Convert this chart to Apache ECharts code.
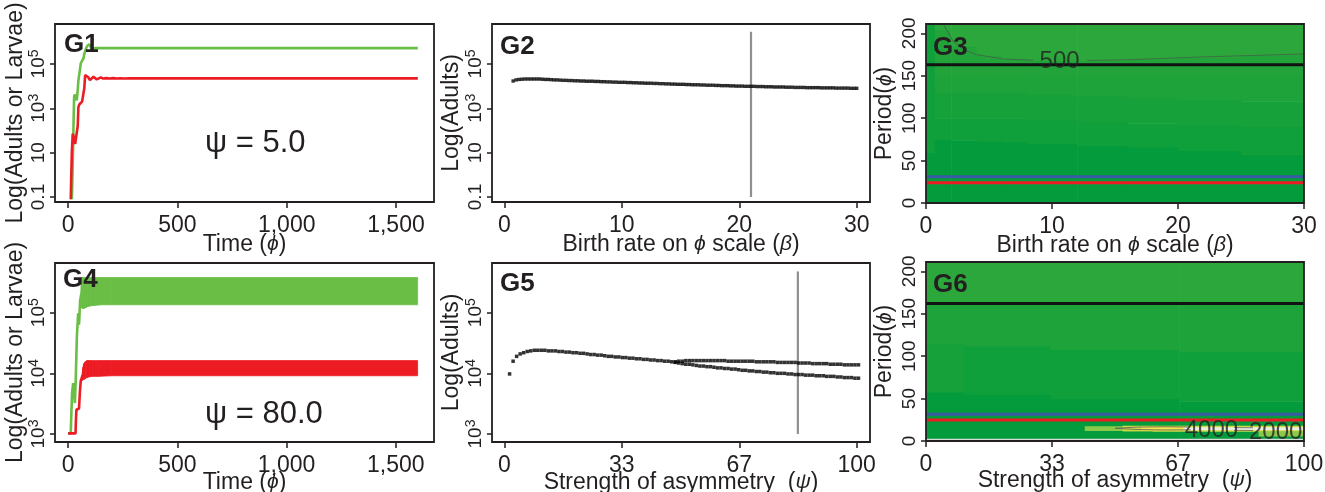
<!DOCTYPE html>
<html><head><meta charset="utf-8">
<script src="https://cdn.jsdelivr.net/npm/echarts@6/dist/echarts.min.js"></script>
<style>html,body{margin:0;padding:0;background:#fff}#c{width:1325px;height:492px}</style>
</head><body><div id="c"></div>
<script>
// ---------------- data (log10 units on "Log(...)" axes) ----------------
const timeTicks = [0, 500, 1000, 1500];
const timeTickLabels = ['0', '500', '1,000', '1,500'];
const betaTicks = [0, 10, 20, 30];
const betaTickLabels = ['0', '10', '20', '30'];
const psiTicks = [0, 33.33, 66.67, 100];
const psiTickLabels = ['0', '33', '67', '100'];
const logTicksTop = [-1, 1, 3, 5];
const logTickLabelsTop = ['0.1', '10', '10^3', '10^5'];
const logTicksBottom = [3, 4, 5];
const logTickLabelsBottom = ['10^3', '10^4', '10^5'];
const periodTicks = [0, 50, 100, 150, 200];
const periodTickLabels = ['0', '50', '100', '150', '200'];

// G1 (psi = 5.0)
const g1LarvaeT = [17,19,22,25,27.4,30,33.5,37,39.6,43,47,51.8,55,58,62,65.5,70,74,77.7,82,88,93,97.5,102,108,115,123,140,1600];
const g1LarvaeLog = [-1.10,-0.40,0.90,2.40,3.51,3.62,3.67,3.55,3.36,3.70,4.25,4.58,4.80,5.03,5.10,5.08,5.25,5.45,5.56,5.70,5.82,5.87,5.89,5.80,5.67,5.69,5.71,5.71,5.71];
const g1AdultsT = [12,14,17,21,26,32,36,40,44,47,52,58,64,70,74,78,82,86,92,100,108,116,124,131,140,150,161,175,190,205,222,240,260,280,1600];
const g1AdultsLog = [-1.10,-0.20,1.00,1.85,1.70,1.39,1.35,1.32,2.20,3.06,3.18,3.21,3.30,3.36,3.90,4.50,4.58,4.55,4.40,4.27,4.35,4.42,4.38,4.30,4.36,4.39,4.34,4.36,4.34,4.36,4.34,4.35,4.34,4.35,4.35];

// G2
const g2Beta = [0.75,1,1.25,1.5,1.75,2,2.25,2.5,2.75,3,3.25,3.5,3.75,4,4.25,4.5,4.75,5,
5.25,5.5,5.75,6,6.25,6.5,6.75,7,7.25,7.5,7.75,8,8.25,8.5,8.75,9,9.25,9.5,9.75,10,
10.25,10.5,10.75,11,11.25,11.5,11.75,12,12.25,12.5,12.75,13,13.25,13.5,13.75,14,14.25,14.5,14.75,15,
15.25,15.5,15.75,16,16.25,16.5,16.75,17,17.25,17.5,17.75,18,18.25,18.5,18.75,19,19.25,19.5,19.75,20,
20.25,20.5,20.75,21,21.25,21.5,21.75,22,22.25,22.5,22.75,23,23.25,23.5,23.75,24,24.25,24.5,24.75,25,
25.25,25.5,25.75,26,26.25,26.5,26.75,27,27.25,27.5,27.75,28,28.25,28.5,28.75,29,29.25,29.5,29.75,30];
const g2AdultsLog = [4.23,4.28,4.30,4.31,4.32,4.32,4.32,4.32,4.32,4.32,4.31,4.30,4.30,4.29,4.28,4.28,4.27,4.26,
4.26,4.25,4.25,4.24,4.24,4.23,4.23,4.22,4.22,4.22,4.21,4.21,4.20,4.20,4.19,4.19,4.18,4.18,4.17,4.17,
4.17,4.16,4.16,4.15,4.15,4.14,4.14,4.13,4.13,4.13,4.12,4.12,4.11,4.11,4.10,4.10,4.09,4.09,4.08,4.08,
4.08,4.07,4.07,4.06,4.06,4.06,4.05,4.05,4.04,4.04,4.04,4.03,4.03,4.02,4.02,4.02,4.01,4.01,4.00,4.00,
4.00,3.99,3.99,3.99,3.99,3.98,3.98,3.98,3.97,3.97,3.97,3.96,3.96,3.96,3.96,3.95,3.95,3.95,3.94,3.94,
3.94,3.94,3.93,3.93,3.93,3.93,3.93,3.92,3.92,3.92,3.92,3.92,3.91,3.91,3.91,3.91,3.91,3.90,3.90,3.90];
const g2Marker = {beta: 21, fromLog: -1, toLog: 6.45};

// G3 filled contour cells: [beta0, beta1, period0, period1, level]
const g3Cells = [
 [0,0.7,0,60,0],[0,0.7,60,211,1],
 [0.7,2,0,75,0],[0.7,2,75,100,1],[0.7,2,100,130,2],[0.7,2,130,150,3],[0.7,2,150,205,4],[0.7,2,205,211,5],
 [2,4,0,74,0],[2,4,74,100,1],[2,4,100,130,2],[2,4,130,150,3],[2,4,150,186,4],[2,4,186,211,5],
 [4,6,0,73,0],[4,6,73,100,1],[4,6,100,130,2],[4,6,130,150,3],[4,6,150,174,4],[4,6,174,211,5],
 [6,8,0,72,0],[6,8,72,100,1],[6,8,100,130,2],[6,8,130,150,3],[6,8,150,170,4],[6,8,170,211,5],
 [8,12,0,70,0],[8,12,70,98,1],[8,12,98,128,2],[8,12,128,150,3],[8,12,150,168,4],[8,12,168,211,5],
 [12,16,0,68,0],[12,16,68,96,1],[12,16,96,126,2],[12,16,126,150,3],[12,16,150,168,4],[12,16,168,211,5],
 [16,20,0,66,0],[16,20,66,94,1],[16,20,94,124,2],[16,20,124,150,3],[16,20,150,170,4],[16,20,170,211,5],
 [20,25,0,62,0],[20,25,62,92,1],[20,25,92,122,2],[20,25,122,150,3],[20,25,150,172,4],[20,25,172,211,5],
 [25,30,0,57,0],[25,30,57,90,1],[25,30,90,120,2],[25,30,120,150,3],[25,30,150,175,4],[25,30,175,211,5]
];
const g3HLines = [163, 31, 24];
const g3ContourSegs = [
 [[1.37,211],[2.15,190.6],[2.94,180.8],[4.0,174.9],[6.1,169.8],[8.5,168.2]],
 [[12.8,168],[16.4,169],[21.7,172.1],[30,175.7]]
];
const g3ContourLabels = [[10.6, 167, '500']];

// G4 (psi = 80.0)
const g4LarvaeT = [0,12,15,18,23,27,31,35,40,46,50,55,61];
const g4LarvaeLog = [3.01,3.01,3.35,3.67,3.84,3.70,3.51,3.90,4.60,4.99,4.80,5.20,5.32];
const g4LarvaeBandT = [58,61,66,72,80,90,100,120,150,200,1600];
const g4LarvaeBandHi = [5.32,5.58,5.58,5.58,5.58,5.58,5.58,5.58,5.58,5.58,5.58];
const g4LarvaeBandLo = [5.10,5.08,5.07,5.07,5.08,5.10,5.11,5.12,5.13,5.13,5.13];
const g4AdultsT = [0,20,34,36,38,44,50,54,58,62,66];
const g4AdultsLog = [3.01,3.01,3.01,3.25,3.40,3.40,3.42,3.70,3.88,3.92,3.97];
const g4AdultsBandT = [64,68,72,78,86,96,110,140,200,1600];
const g4AdultsBandHi = [4.00,4.10,4.16,4.19,4.21,4.21,4.21,4.21,4.21,4.21];
const g4AdultsBandLo = [3.88,3.89,3.90,3.91,3.93,3.94,3.95,3.95,3.96,3.96];

// G5
const g5Psi = [1.5,2.5,3.5,4.5,5.5,6.5,7.5,8.5,9.5,10.5,
11.5,12.5,13.5,14.5,15.5,16.5,17.5,18.5,19.5,20.5,
21.5,22.5,23.5,24.5,25.5,26.5,27.5,28.5,29.5,30.5,
31.5,32.5,33.5,34.5,35.5,36.5,37.5,38.5,39.5,40.5,
41.5,42.5,43.5,44.5,45.5,46.5,47.5,48.5,49.5,50.5,
51.5,52.5,53.5,54.5,55.5,56.5,57.5,58.5,59.5,60.5,
61.5,62.5,63.5,64.5,65.5,66.5,67.5,68.5,69.5,70.5,
71.5,72.5,73.5,74.5,75.5,76.5,77.5,78.5,79.5,80.5,
81.5,82.5,83.5,84.5,85.5,86.5,87.5,88.5,89.5,90.5,
91.5,92.5,93.5,94.5,95.5,96.5,97.5,98.5,99.5,100.5];
const g5AdultsLog = [3.99,4.20,4.28,4.32,4.34,4.36,4.37,4.38,4.38,4.38,
4.38,4.37,4.37,4.37,4.36,4.36,4.35,4.35,4.34,4.34,
4.33,4.33,4.32,4.31,4.31,4.30,4.30,4.29,4.28,4.28,
4.27,4.27,4.26,4.26,4.25,4.25,4.24,4.24,4.23,4.23,
4.22,4.22,4.21,4.21,4.20,4.20,4.19,4.19,4.20,4.20,
4.21,4.21,4.21,4.21,4.21,4.21,4.21,4.21,4.21,4.21,
4.21,4.21,4.20,4.20,4.20,4.20,4.20,4.20,4.20,4.20,
4.19,4.19,4.19,4.19,4.19,4.19,4.18,4.18,4.18,4.18,
4.18,4.18,4.17,4.17,4.17,4.17,4.16,4.16,4.16,4.16,
4.16,4.15,4.15,4.15,4.15,4.14,4.14,4.14,4.14,4.14];
const g5LowPsi = [48.5,49.5,50.5,
51.5,52.5,53.5,54.5,55.5,56.5,57.5,58.5,59.5,60.5,
61.5,62.5,63.5,64.5,65.5,66.5,67.5,68.5,69.5,70.5,
71.5,72.5,73.5,74.5,75.5,76.5,77.5,78.5,79.5,80.5,
81.5,82.5,83.5,84.5,85.5,86.5,87.5,88.5,89.5,90.5,
91.5,92.5,93.5,94.5,95.5,96.5,97.5,98.5,99.5,100.5];
const g5LowLog = [4.18,4.17,4.16,
4.15,4.15,4.14,4.13,4.12,4.12,4.11,4.11,4.10,4.09,
4.09,4.08,4.08,4.07,4.07,4.06,4.05,4.05,4.04,4.04,
4.03,4.03,4.02,4.02,4.01,4.01,4.00,4.00,4.00,3.99,
3.99,3.98,3.98,3.98,3.97,3.97,3.97,3.96,3.96,3.96,
3.95,3.95,3.95,3.94,3.94,3.93,3.93,3.93,3.92,3.92];
const g5Marker = {psi: 83.3, fromLog: 3.0, toLog: 5.68};

// G6 filled contour cells: [psi0, psi1, period0, period1, level]
const g6Cells = [
 [0,10,0,58,0],[0,10,58,115,2],[0,10,115,162,3],[0,10,162,211,5],
 [10,33,0,55,0],[10,33,55,112,1],[10,33,112,162,3],[10,33,162,211,5],
 [33,67,0,50,0],[33,67,50,108,1],[33,67,108,162,3],[33,67,162,211,5],
 [67,100,0,47,0],[67,100,47,105,1],[67,100,105,162,3],[67,100,162,211,5],
 [42,52,12.5,17.5,6],[52,60,12,18,7],[60,100,11.5,18,7],[57,68,13,17,8],[68,100,13.5,16.3,9],[88,100,6,11,6]
];
const g6HLines = [162, 31.4, 24.7];
const g6BottomLine = 1.8;
const g6ContourSegs = [
 [[50,15],[56,16.4],[63,16.8],[70,16.5]],
 [[50,15],[56,13.5],[63,13],[70,13.2]],
 [[81.5,15.8],[86.5,15.6]],
 [[81.5,12.6],[86.5,12.4]]
];
const g6ContourLabels = [[75.5, 13, '4000'], [92.5, 10, '2000']];

const panelLabels = ['G1', 'G2', 'G3', 'G4', 'G5', 'G6'];
const psiNotes = ['ψ = 5.0', 'ψ = 80.0'];

// ---------------- styling / layout ----------------
const INK = '#231f20';
const FONT = "'Liberation Sans Narrow','Arial Narrow','Liberation Sans',Arial,sans-serif";
const FONT_REG = "'Liberation Sans',Arial,sans-serif";
const GREEN = '#6abd45', RED = '#ed1c24', BLUE = '#3b5aa5', GREY = '#8f8f8f';
const heatPalette = ['#049b3c','#0f9f3b','#16a13a','#1da33a','#23a43a','#2ba73b','#8cc94a','#cddc46','#f3e54a','#eeeee4'];
const hColors = ['#111111', BLUE, RED];

const grids = [
 {left:55, top:24, width:379, height:178},
 {left:492, top:24, width:378, height:178},
 {left:926, top:24, width:378, height:179},
 {left:55, top:263, width:379, height:179},
 {left:492, top:263, width:378, height:179},
 {left:926, top:262, width:378, height:179}
].map(g => Object.assign({show:true, borderColor:INK, borderWidth:1.8, backgroundColor:'transparent', z:10, outerBoundsMode:'none', containLabel:false}, g));

function tickFmt(values, labels) {
  return function (v) {
    let best = 0, bd = Infinity;
    values.forEach((t, i) => { const d = Math.abs(t - v); if (d < bd) { bd = d; best = i; } });
    const s = labels[best];
    const k = s.indexOf('^');
    return k < 0 ? '{n|' + s + '}' : '{n|' + s.slice(0, k) + '}{s|' + s.slice(k + 1) + '}';
  };
}
const nameStyle = {color: INK, fontFamily: FONT, fontSize: 23,
  rich: {i: {fontStyle: 'italic', fontFamily: FONT_REG, fontSize: 21, color: INK}}};

function makeX(gi, min, max, ticks, labels, name, gap) {
  return {type:'value', gridIndex:gi, min, max, position:'bottom',
    axisLine:{show:false, onZero:false}, splitLine:{show:false},
    axisTick:{show:true, inside:false, length:6, customValues:ticks, lineStyle:{color:INK, width:1.5}},
    axisLabel:{show:true, customValues:ticks, formatter:tickFmt(ticks, labels), margin:12, color:INK,
      rich:{n:{fontFamily:FONT, fontSize:23, color:INK}}},
    name, nameLocation:'middle', nameGap:gap, nameTextStyle:nameStyle, nameMoveOverlap:false};
}
function makeY(gi, min, max, ticks, labels, name, gap) {
  return {type:'value', gridIndex:gi, min, max, position:'left',
    axisLine:{show:false, onZero:false}, splitLine:{show:false},
    axisTick:{show:true, inside:false, length:5, customValues:ticks, lineStyle:{color:INK, width:1.5}},
    axisLabel:{show:true, customValues:ticks, formatter:tickFmt(ticks, labels), rotate:90, margin:4, color:INK,
      rich:{n:{fontFamily:FONT, fontSize:19, lineHeight:24, color:INK},
            s:{fontFamily:FONT, fontSize:14, lineHeight:14, verticalAlign:'top', color:INK}}},
    name, nameLocation:'middle', nameGap:gap, nameRotate:90, nameTextStyle:nameStyle, nameMoveOverlap:false};
}

const xAxes = [
 makeX(0, -60, 1674, timeTicks, timeTickLabels, 'Time ({i|ϕ})', 31),
 makeX(1, -1.05, 31.13, betaTicks, betaTickLabels, 'Birth rate on {i|ϕ} scale ({i|β})', 31),
 makeX(2, 0, 30, betaTicks, betaTickLabels, 'Birth rate on {i|ϕ} scale ({i|β})', 31),
 makeX(3, -60, 1675, timeTicks, timeTickLabels, 'Time ({i|ϕ})', 29),
 makeX(4, -3.49, 103.77, psiTicks, psiTickLabels, 'Strength of asymmetry  ({i|ψ})', 29),
 makeX(5, 0, 100, psiTicks, psiTickLabels, 'Strength of asymmetry  ({i|ψ})', 28)
];
const yAxes = [
 makeY(0, -1.226, 6.80, logTicksTop, logTickLabelsTop, 'Log(Adults or Larvae)', 28),
 makeY(1, -1.226, 6.80, logTicksTop, logTickLabelsTop, 'Log(Adults)', 28.5),
 makeY(2, 0, 211, periodTicks, periodTickLabels, 'Period({i|ϕ})', 29.5),
 makeY(3, 2.868, 5.819, logTicksBottom, logTickLabelsBottom, 'Log(Adults or Larvae)', 28),
 makeY(4, 2.868, 5.819, logTicksBottom, logTickLabelsBottom, 'Log(Adults)', 28.5),
 makeY(5, 0, 211, periodTicks, periodTickLabels, 'Period({i|ϕ})', 29.5)
];

const zip = (a, b) => a.map((x, i) => [x, b[i]]);
function lineS(gi, data, color, width, z) {
  return {type:'line', xAxisIndex:gi, yAxisIndex:gi, data, symbol:'none', showSymbol:false,
    lineStyle:{color, width}, itemStyle:{color}, silent:true, z: z || 2};
}
function dotS(gi, data, size) {
  return {type:'scatter', xAxisIndex:gi, yAxisIndex:gi, data, symbol:'rect', symbolSize:size,
    itemStyle:{color:'#000'}, silent:true, z:3};
}
// oscillation envelope drawn as a filled band between lower and upper values
function bandS(gi, t, lo, hi, color) {
  const segs = [];
  for (let i = 0; i < t.length - 1; i++) segs.push([t[i], t[i + 1], lo[i], hi[i], lo[i + 1], hi[i + 1]]);
  return {type:'custom', xAxisIndex:gi, yAxisIndex:gi, clip:true, silent:true, z:2,
    encode:{x:[0, 1], y:[2, 3, 4, 5]}, data:segs,
    renderItem:(params, api) => {
      const p = [api.coord([api.value(0), api.value(2)]), api.coord([api.value(1), api.value(4)]),
                 api.coord([api.value(1), api.value(5)]), api.coord([api.value(0), api.value(3)])];
      return {type:'polygon', shape:{points:p}, style:{fill:color, stroke:color, lineWidth:0.8}};
    }};
}
function cellS(gi, cells) {
  return {type:'custom', xAxisIndex:gi, yAxisIndex:gi, clip:true, silent:true, z:1,
    encode:{x:[0, 1], y:[2, 3]}, data:cells,
    renderItem:(params, api) => {
      const a = api.coord([api.value(0), api.value(3)]);
      const b = api.coord([api.value(1), api.value(2)]);
      return {type:'rect', shape:{x:a[0], y:a[1], width:b[0] - a[0] + 0.6, height:b[1] - a[1] + 0.6},
        style:{fill:heatPalette[api.value(4)]}};
    }};
}
function labelS(gi, items, size) {
  return {type:'scatter', xAxisIndex:gi, yAxisIndex:gi, data:items.map(d => ({value:[d[0], d[1]], name:d[2]})),
    symbolSize:1, itemStyle:{color:'rgba(0,0,0,0)'}, silent:true, z:6,
    label:{show:true, position:'inside', formatter:p => p.name, fontFamily:FONT, fontSize:size, color:INK}};
}

const series = [];
// G1
series.push(lineS(0, zip(g1LarvaeT, g1LarvaeLog), GREEN, 2.6));
series.push(lineS(0, zip(g1AdultsT, g1AdultsLog), RED, 2.6));
// G2
series.push(lineS(1, [[g2Marker.beta, g2Marker.fromLog], [g2Marker.beta, g2Marker.toLog]], GREY, 2.2));
series.push(dotS(1, zip(g2Beta, g2AdultsLog), 3.4));
// G3
series.push(cellS(2, g3Cells));
g3ContourSegs.forEach(seg => series.push(lineS(2, seg, '#3d6f45', 1, 3)));
g3HLines.forEach((y, i) => series.push(lineS(2, [[0, y], [30, y]], hColors[i], 3, 4)));
series.push(labelS(2, g3ContourLabels, 24));
// G4
series.push(lineS(3, zip(g4LarvaeT, g4LarvaeLog), GREEN, 2.6));
series.push(bandS(3, g4LarvaeBandT, g4LarvaeBandLo, g4LarvaeBandHi, GREEN));
series.push(lineS(3, zip(g4AdultsT, g4AdultsLog), RED, 2.6));
series.push(bandS(3, g4AdultsBandT, g4AdultsBandLo, g4AdultsBandHi, RED));
// G5
series.push(lineS(4, [[g5Marker.psi, g5Marker.fromLog], [g5Marker.psi, g5Marker.toLog]], GREY, 2.2));
series.push(dotS(4, zip(g5Psi, g5AdultsLog), 3.5));
series.push(dotS(4, zip(g5LowPsi, g5LowLog), 3.5));
// G6
series.push(cellS(5, g6Cells));
g6ContourSegs.forEach(seg => series.push(lineS(5, seg, '#6a6a5a', 0.9, 3)));
series.push(lineS(5, [[0, g6BottomLine], [100, g6BottomLine]], '#d6dcd6', 1.2, 3));
g6HLines.forEach((y, i) => series.push(lineS(5, [[0, y], [100, y]], hColors[i], 3, 4)));
series.push(labelS(5, g6ContourLabels, 24));

const labelPos = [[64, 44.5], [500, 47], [933, 48], [63, 280], [500, 284], [933, 285]];
const notePos = [[205, 143], [205, 414]];
const graphic = panelLabels.map((t, i) => ({type:'text', x:labelPos[i][0], y:labelPos[i][1], z:100,
  style:{text:t, font:"bold 26px 'Liberation Sans', Arial, sans-serif", fill:INK, verticalAlign:'middle', align:'left'}}))
 .concat(psiNotes.map((t, i) => ({type:'text', x:notePos[i][0], y:notePos[i][1], z:100,
  style:{text:t, font:"31px 'Liberation Sans', Arial, sans-serif", fill:INK, verticalAlign:'middle', align:'left'}})));

const chart = echarts.init(document.getElementById('c'), null, {renderer:'canvas'});
chart.setOption({animation:false, backgroundColor:'#ffffff', grid:grids, xAxis:xAxes, yAxis:yAxes, series, graphic});
</script></body></html>
